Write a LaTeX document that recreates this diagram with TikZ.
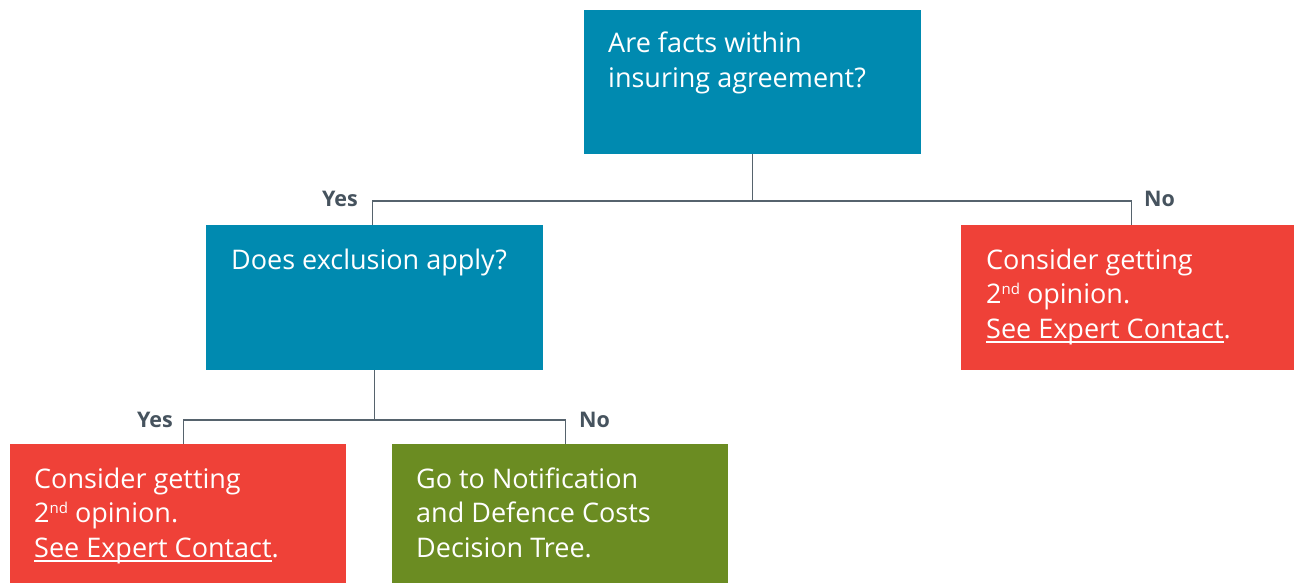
\documentclass[tikz,border=0pt]{standalone}
\usepackage{fontspec}
\setmainfont{Open Sans}
\usetikzlibrary{calc}
\definecolor{boxblue}{HTML}{008AB0}
\definecolor{boxred}{HTML}{EF4138}
\definecolor{boxgreen}{HTML}{6B8C22}
\definecolor{linegray}{HTML}{56636D}
\definecolor{labelgray}{HTML}{46535E}
\newcommand{\myul}[1]{\setbox0\hbox{#1}\rlap{\rule[-4.5pt]{\wd0}{1.3pt}}\box0}
\newcommand{\mysup}[1]{\raisebox{9pt}{\fontsize{15}{15}\selectfont #1}}
\tikzset{
  box/.style={rectangle, inner sep=0pt, anchor=north west},
  bluebox/.style={box, fill=boxblue},
  redbox/.style={box, fill=boxred},
  greenbox/.style={box, fill=boxgreen},
  boxtext/.style={anchor=base west, inner sep=0pt, text=white, align=left,
    font=\fontsize{27}{34.5}\selectfont},
  lbl/.style={inner sep=0pt, text=labelgray, font=\fontsize{21.5}{24}\selectfont\bfseries},
  conn/.style={draw=linegray, line width=1.4pt},
}
\begin{document}
\begin{tikzpicture}[x=1pt,y=-1pt]
\useasboundingbox (0,0) rectangle (1294,583);
% boxes
\node[bluebox, minimum width=337pt, minimum height=144pt] (top) at (584,10) {};
\node[bluebox, minimum width=337pt, minimum height=145pt] (mid) at (206,225) {};
\node[redbox, minimum width=333pt, minimum height=145pt] (no1) at (961,225) {};
\node[redbox, minimum width=336pt, minimum height=139pt] (red2) at (10,444) {};
\node[greenbox, minimum width=336pt, minimum height=139pt] (green) at (392,444) {};
% texts (anchored at the baseline of the last line)
\node[boxtext] (toptext) at (608,87.5) {Are facts within\\insuring agreement?};
\node[boxtext] (midtext) at (231,269) {Does exclusion apply?};
\node[boxtext] (no1text) at (986,338) {Consider getting\\2\mysup{nd} opinion.\\\myul{See Expert Contact}.};
\node[boxtext] (red2text) at (34,557) {Consider getting\\2\mysup{nd} opinion.\\\myul{See Expert Contact}.};
\node[boxtext] (greentext) at (416,557) {Go to Notification\\and Defence Costs\\Decision Tree.};
% attachment points and junctions
\coordinate (midin) at ($(mid.north)+(-2.5,0)$);
\coordinate (no1in) at ($(no1.north)+(3.5,0)$);
\coordinate (red2in) at ($(red2.north)+(5,0)$);
\coordinate (greenin) at ($(green.north)+(5,0)$);
\coordinate (j1) at (top.south |- 0,201);
\coordinate (j2) at (mid.south |- 0,420);
% connectors
\draw[conn] (top.south) -- (j1);
\draw[conn] (midin) |- (j1) -| (no1in);
\draw[conn] (mid.south) -- (j2);
\draw[conn] (red2in) |- (j2) -| (greenin);
% labels
\node[lbl, anchor=base east] (yes1) at (358,207) {Yes};
\node[lbl, anchor=base west] (no1lbl) at (1144,207) {No};
\node[lbl, anchor=base east] (yes2) at (173,427) {Yes};
\node[lbl, anchor=base west] (no2lbl) at (579,427) {No};
\end{tikzpicture}
\end{document}
